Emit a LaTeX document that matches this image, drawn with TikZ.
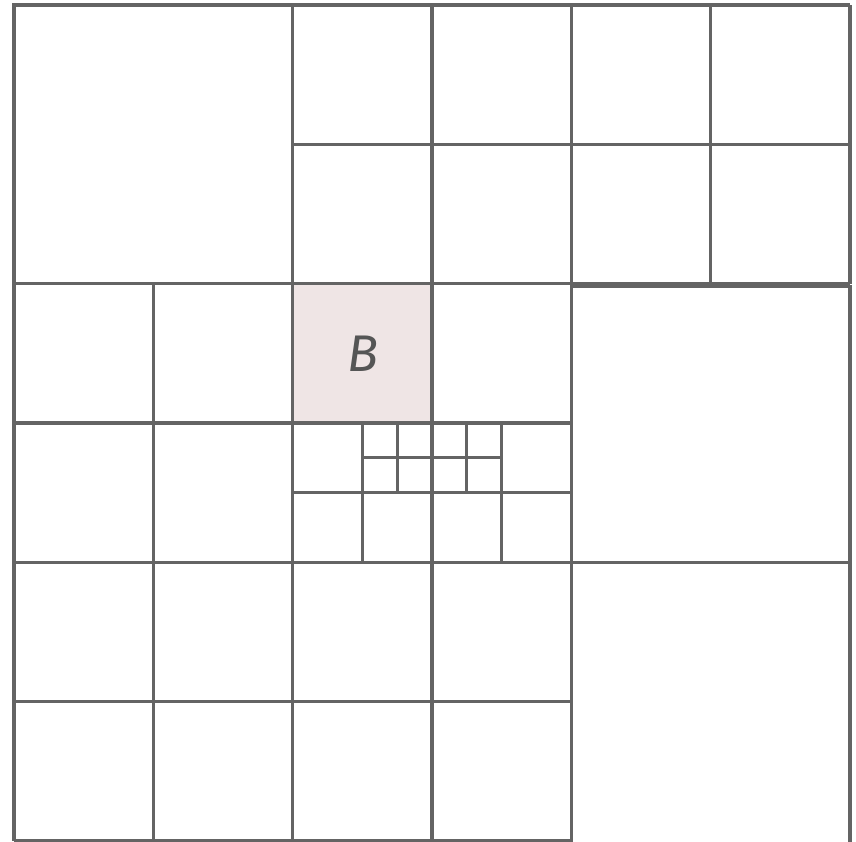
\documentclass[tikz,border=0pt]{standalone}
\usepackage{fontspec}
\setmainfont{Fira Sans}
\usepackage{tikz}
\usetikzlibrary{positioning}
\definecolor{CellGray}{HTML}{646464}
\definecolor{CellPink}{HTML}{EFE5E5}
\definecolor{LabelGray}{HTML}{555555}

\begin{document}
\begin{tikzpicture}[x=4.18cm,y=4.18cm,line width=2.6pt]
  \useasboundingbox (-.1005,-.007) rectangle (6.043,6.036);
  \clip (-.1005,-.007) rectangle (6.043,6.036);
  \fill[CellPink] (2,3) rectangle (3,4);
  \node[LabelGray,font=\fontsize{44}{44}\selectfont\itshape] (B) at (2.505,3.5) {B};
  % big cells
  \draw[CellGray] (0,4) rectangle (2,6);
  \draw[CellGray] (4,2) rectangle (6,3.983);
  \draw[CellGray] (4,-.2) rectangle (6,2);
  % unit cells
  \draw[CellGray,step=1] (2,4) grid (6,6);
  \draw[CellGray,step=1] (0,2) grid (2,4);
  \draw[CellGray,step=1] (0,0) grid (4,2);
  \draw[CellGray] (2,3) rectangle (3,4) (3,3) rectangle (4,4);
  % finer cells below B
  \draw[CellGray] (2,2) rectangle (4,3);
  \draw[CellGray] (2,2.5) -- (4,2.5);
  \draw[CellGray] (2.5,2) -- (2.5,3) (3,2) -- (3,3) (3.5,2) -- (3.5,3);
  \draw[CellGray] (2.5,2.75) -- (3.5,2.75);
  \draw[CellGray] (2.75,2.5) -- (2.75,3) (3.25,2.5) -- (3.25,3);
\end{tikzpicture}
\end{document}
